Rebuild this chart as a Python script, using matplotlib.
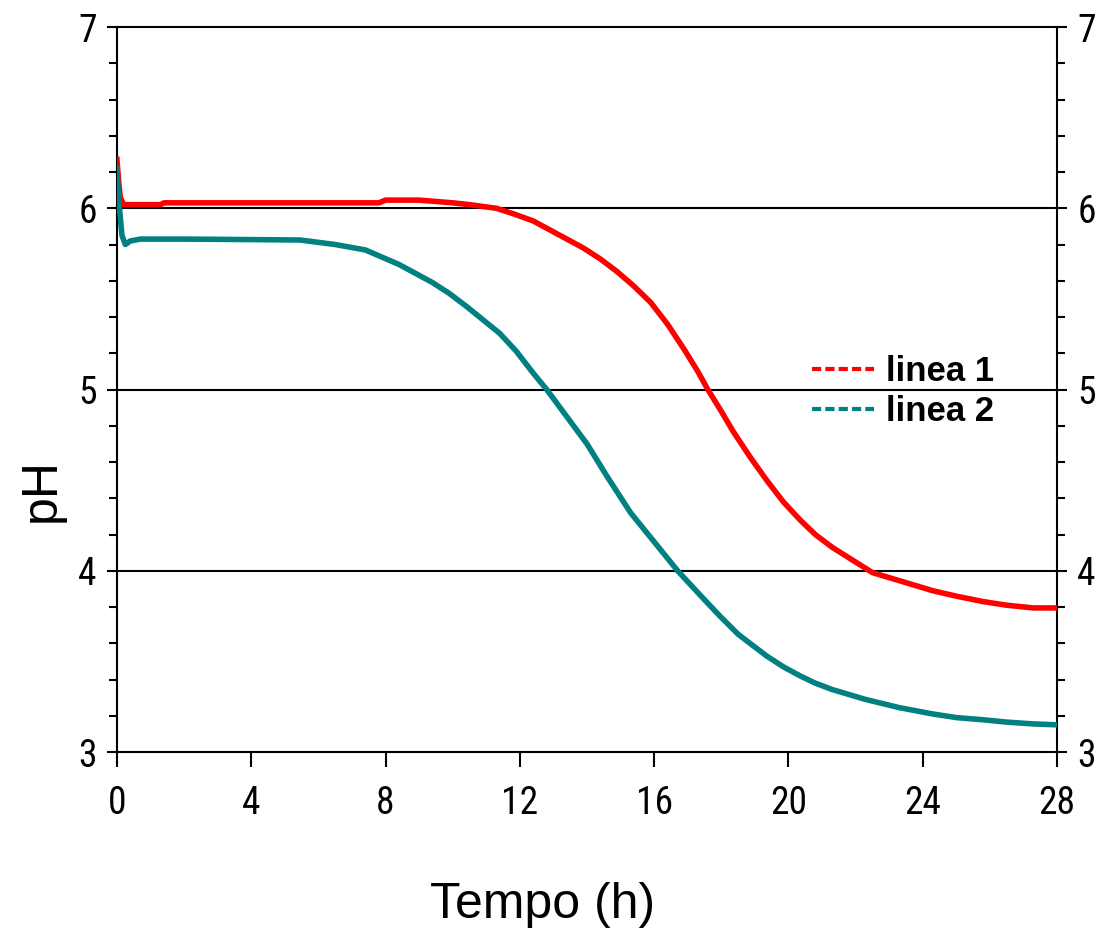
import matplotlib.pyplot as plt
from matplotlib.lines import Line2D
from matplotlib.ticker import MultipleLocator

# valori
t_linea1 = [0, 0.05, 0.1, 0.2, 0.5, 1.3, 1.4, 3, 6, 7.8, 8.0, 9, 10, 10.5, 11.3,
            11.8, 12.4, 13.0, 13.5, 13.9, 14.4, 14.9, 15.4, 15.9, 16.4, 16.9, 17.3,
            17.6, 18.0, 18.35, 18.85, 19.35, 19.85, 20.35, 20.8, 21.3, 21.9, 22.5,
            23.4, 24.3, 25.0, 25.8, 26.5, 27.3, 28]
ph_linea1 = [6.27, 6.15, 6.06, 6.02, 6.02, 6.02, 6.03, 6.03, 6.03, 6.03, 6.045,
             6.045, 6.03, 6.02, 6.0, 5.97, 5.93, 5.87, 5.82, 5.78, 5.72, 5.65, 5.57,
             5.48, 5.36, 5.22, 5.10, 5.0, 4.88, 4.77, 4.63, 4.50, 4.38, 4.28, 4.20,
             4.13, 4.06, 3.99, 3.94, 3.89, 3.86, 3.83, 3.81, 3.795, 3.795]

t_linea2 = [0, 0.05, 0.1, 0.15, 0.25, 0.4, 0.7, 2, 5.45, 6.5, 7.4, 7.9, 8.4, 8.9,
            9.4, 9.9, 10.4, 10.8, 11.4, 11.9, 12.4, 12.8, 13.4, 14.0, 14.6, 15.3,
            16.0, 16.7, 17.4, 17.96, 18.5, 19.35, 19.85, 20.35, 20.8, 21.3, 22.3,
            23.3, 24.3, 25.0, 25.8, 26.5, 27.3, 28]
ph_linea2 = [6.22, 6.05, 5.95, 5.85, 5.80, 5.82, 5.83, 5.83, 5.825, 5.80, 5.77,
             5.73, 5.69, 5.64, 5.59, 5.53, 5.46, 5.40, 5.31, 5.21, 5.09, 5.0, 4.85,
             4.70, 4.52, 4.32, 4.16, 4.0, 3.86, 3.75, 3.65, 3.53, 3.47, 3.42, 3.38,
             3.345, 3.29, 3.245, 3.21, 3.19, 3.178, 3.165, 3.155, 3.15]

x_ticks = [0, 4, 8, 12, 16, 20, 24, 28]
y_ticks = [3, 4, 5, 6, 7]
labels = ["linea 1", "linea 2"]
colors = ["#ff0000", "#008080"]

narrow = ["Liberation Sans Narrow", "Roboto Condensed", "Archivo Narrow",
          "Liberation Sans", "DejaVu Sans"]
plt.rcParams["font.family"] = ["Liberation Sans", "DejaVu Sans"]

fig = plt.figure(figsize=(10.95, 9.35), dpi=100)
ax = fig.add_axes([0.1068, 0.1957, 0.8585, 0.7754])

ax.plot(t_linea1, ph_linea1, color=colors[0], lw=4, zorder=3)
ax.plot(t_linea2, ph_linea2, color=colors[1], lw=4, zorder=3)

for y in [4, 5, 6]:
    ax.axhline(y, color="black", lw=1.5, zorder=2)

ax.set_xlim(0, 28)
ax.set_ylim(3, 7)
ax.set_xticks(x_ticks)
ax.set_yticks(y_ticks)
ax.yaxis.set_minor_locator(MultipleLocator(0.2))

for s in ax.spines.values():
    s.set_linewidth(1.5)

ax.tick_params(axis="x", which="major", direction="out", length=11, width=1.5,
               pad=13, labelsize=27)
ax.tick_params(axis="y", which="major", direction="out", length=7.5, width=1.5,
               pad=7, labelsize=27, left=True, right=True, labelright=True)
ax.tick_params(axis="y", which="minor", direction="out", length=5.5, width=1.5,
               left=True, right=True)
for tk in ax.xaxis.get_major_ticks() + ax.yaxis.get_major_ticks():
    tk.label1.set_family(narrow)
    tk.label2.set_family(narrow)

ax.set_xlabel("Tempo (h)", fontsize=36, va="center")
ax.xaxis.set_label_coords((543 - 117) / 940, (752 - 905) / 725)
ax.set_ylabel("pH", fontsize=36, va="center")
ax.yaxis.set_label_coords((42 - 117) / 940, (752 - 490) / 725)

handles = [Line2D([], [], color=c, lw=3, linestyle=(0, (2.2, 1.0))) for c in colors]
ax.legend(handles, labels, loc="upper left", bbox_to_anchor=(0.739, 0.548),
          frameon=False, borderaxespad=0, borderpad=0, handlelength=1.8,
          handletextpad=0.35, labelspacing=0.2,
          prop={"weight": "bold", "size": 25})

fig.savefig("out.png", dpi=100)
